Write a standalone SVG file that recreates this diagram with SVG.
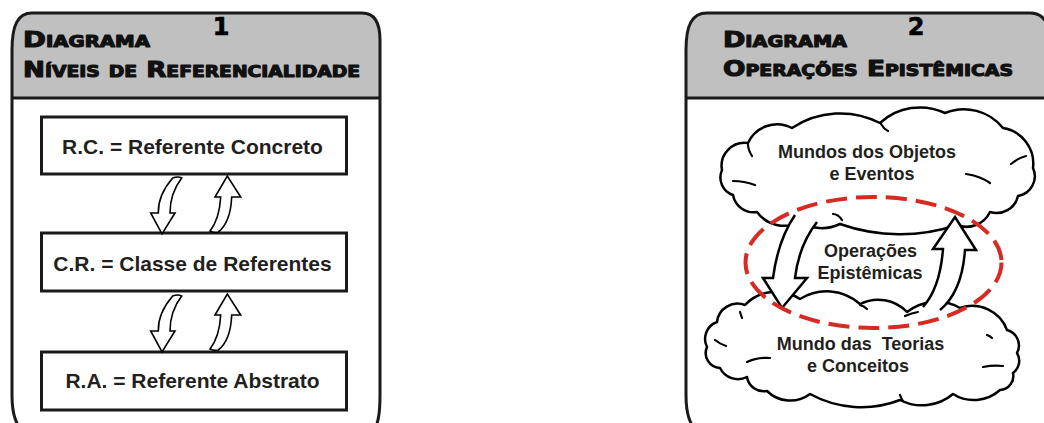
<svg xmlns="http://www.w3.org/2000/svg" width="1044" height="423" viewBox="0 0 1044 423">
<style>
.frame{fill:none;stroke:#1a1a1a;stroke-width:3}
.hdr{fill:#c0c0c0;stroke:none}
.div{stroke:#1a1a1a;stroke-width:3}
.htxt{font-family:"DejaVu Sans",sans-serif;font-weight:bold;font-variant:small-caps;font-size:21px;fill:#111;stroke:#111;stroke-width:1.1;stroke-linejoin:round}
.num{font-family:"DejaVu Sans",sans-serif;font-weight:bold;font-size:24px;fill:#000;stroke:#000;stroke-width:0.6;text-anchor:middle}
.box{fill:#fff;stroke:#1a1a1a;stroke-width:3}
.btxt{font-family:"Liberation Sans",Arial,sans-serif;font-weight:bold;font-size:21px;fill:#231f20;text-anchor:middle}
.ctxt{font-family:"Liberation Sans",Arial,sans-serif;font-weight:bold;font-size:18px;fill:#231f20;text-anchor:middle}
.cloud{fill:#fff;stroke:#000;stroke-width:2.5;stroke-linejoin:round}
.hook{fill:none;stroke:#000;stroke-width:2.2;stroke-linecap:round}
.arr{fill:#fff;stroke:#000;stroke-width:1.6;stroke-linejoin:miter}
.barr{fill:#fff;stroke:#000;stroke-width:2.5;stroke-linejoin:miter}
.ell{fill:none;stroke:#d62a22;stroke-width:4;stroke-dasharray:21 9}
</style>
<rect width="1044" height="423" fill="#fff"/>

<g id="panel1">
<path class="hdr" d="M12,98 L12,50 C12,25 18,13 32,13 L362,13 C374,13 380,22 380,40 L380,98 Z"/>
<line class="div" x1="12" y1="98" x2="380" y2="98"/>
<path class="frame" d="M26,434 C16,426 12,415 12,395 L12,50 C12,25 18,13 32,13 L362,13 C374,13 380,22 380,40 L380,395 C380,415 378,425 372,434"/>
<text class="htxt" x="23" y="47" textLength="127" lengthAdjust="spacingAndGlyphs">Diagrama</text>
<text class="htxt" x="23" y="77" textLength="337" lengthAdjust="spacingAndGlyphs">Níveis de Referencialidade</text>
<text class="num" x="221" y="35">1</text>
</g>

<g id="node-rc">
<rect class="box" x="41.5" y="117" width="305" height="57"/>
<text class="btxt" x="192.5" y="154">R.C. = Referente Concreto</text>
</g>
<g id="node-cr">
<rect class="box" x="41.5" y="233" width="305" height="58"/>
<text class="btxt" x="192.5" y="270.5">C.R. = Classe de Referentes</text>
</g>
<g id="node-ra">
<rect class="box" x="41.5" y="352" width="305" height="58"/>
<text class="btxt" x="192.5" y="388">R.A. = Referente Abstrato</text>
</g>

<g id="connectors-panel1">
<g id="arrows-rc-cr">
<path class="arr" d="M172.7,178 C164,188 158,200 158.3,213 L150.7,213 L162,234 L175,213 L170,213 C170,200 174,188 181.7,178 Q178,176 172.7,178 Z"/>
<path class="arr" d="M210,231 C217,222 220,210 220.7,197 L215,197 L227.3,176 L240.7,197 L231.7,197 C231,213 226,226 218.3,232 Q214,233 210,231 Z"/>
</g>
<g id="arrows-cr-ra" transform="translate(0,118)">
<path class="arr" d="M172.7,178 C164,188 158,200 158.3,213 L150.7,213 L162,234 L175,213 L170,213 C170,200 174,188 181.7,178 Q178,176 172.7,178 Z"/>
<path class="arr" d="M210,231 C217,222 220,210 220.7,197 L215,197 L227.3,176 L240.7,197 L231.7,197 C231,213 226,226 218.3,232 Q214,233 210,231 Z"/>
</g>
</g>

<g id="panel2">
<path class="hdr" d="M686,98 L686,50 C686,25 692,13 707,13 L1030,13 C1037,13 1042,15 1046,22 L1046,98 Z"/>
<line class="div" x1="686" y1="98" x2="1046" y2="98"/>
<path class="frame" d="M700,434 C690,426 686,415 686,395 L686,50 C686,25 692,13 707,13 L1030,13 C1037,13 1042,15 1046,22 L1046,434"/>
<text class="htxt" x="723" y="47" textLength="124" lengthAdjust="spacingAndGlyphs">Diagrama</text>
<text class="htxt" x="723" y="76" textLength="290" lengthAdjust="spacingAndGlyphs">Operações Epistêmicas</text>
<text class="num" x="916" y="35">2</text>
</g>

<g id="cloud-objetos">
<path class="cloud" d="M722,170 A23,23 0 0 1 748,143 A32,32 0 0 1 792,128 A87,87 0 0 1 880,123 A59,59 0 0 1 945,113 A50,50 0 0 1 1003,128 A36,36 0 0 1 1033,168 A20,20 0 0 1 1018,196 A22,22 0 0 1 990,212 A26,26 0 0 1 957,225 A180,180 0 0 1 840,224 A42,42 0 0 1 800,222 A34,34 0 0 1 757,212 A21,21 0 0 1 733,195 A18.5,18.5 0 0 1 722,170 Z"/>
<path class="hook" d="M733,181 Q744,181 755,185"/>
<path class="hook" d="M1011,164 Q1018,158 1026,156"/>
<path class="hook" d="M966,174 Q980,176 990,183"/>
<path class="hook" d="M833,214 Q838,214 842,220"/>
<path class="hook" d="M881,124 Q884,129 888,131"/>
<path class="hook" d="M748,144 Q748,150 752,156"/>
<text class="ctxt" x="867" y="158">Mundos dos Objetos</text>
<text class="ctxt" x="872" y="180">e Eventos</text>
</g>

<g id="cloud-teorias">
<path class="cloud" d="M707,347 A18,18 0 0 1 717,322 A20.6,20.6 0 0 1 745,305 A43,43 0 0 1 800,299 A50,50 0 0 1 860,304 A40,40 0 0 1 907,312 A48,48 0 0 1 960,308 A37,37 0 0 1 1007,330 A16,16 0 0 1 1017,353 A15,15 0 0 1 1013,373 A14,14 0 0 1 1000,390 A39,39 0 0 1 953,394 A48,48 0 0 1 900,400 A107,107 0 0 1 810,394 A33,33 0 0 1 767,391 A17,17 0 0 1 747,377 A20,20 0 0 1 720,368 A15,15 0 0 1 707,347 Z"/>
<path class="hook" d="M715,340 Q720,344 726,346"/>
<path class="hook" d="M747,362 Q757,357 770,358"/>
<path class="hook" d="M900,395 Q901,398 903,401"/>
<path class="hook" d="M983,367 Q993,365 1003,366"/>
<path class="hook" d="M987,335 Q990,336 992,338"/>
<path class="hook" d="M905,316 Q912,313 918,312"/>
<path class="hook" d="M860,305 Q864,306 867,309"/>
<path class="hook" d="M740,312 Q741,315 742,318"/>
<text class="ctxt" x="860.5" y="350" xml:space="preserve" style="white-space:pre">Mundo das  Teorias</text>
<text class="ctxt" x="858" y="372">e Conceitos</text>
</g>

<g id="connectors-panel2">
<path class="barr" d="M795,215 Q778,240 773,278 L763,278 L782,308 L807,278 L795,278 Q799,245 817,222"/>
<path class="barr" d="M923,307 Q940,288 943,249 L933,249 L955,217 L976,250 L965,250 Q962,292 940,310"/>
</g>

<g id="node-operacoes">
<ellipse class="ell" cx="873.5" cy="262.5" rx="128" ry="65.5"/>
<text class="ctxt" x="870.5" y="257">Operações</text>
<text class="ctxt" x="870" y="279">Epistêmicas</text>
</g>
</svg>
